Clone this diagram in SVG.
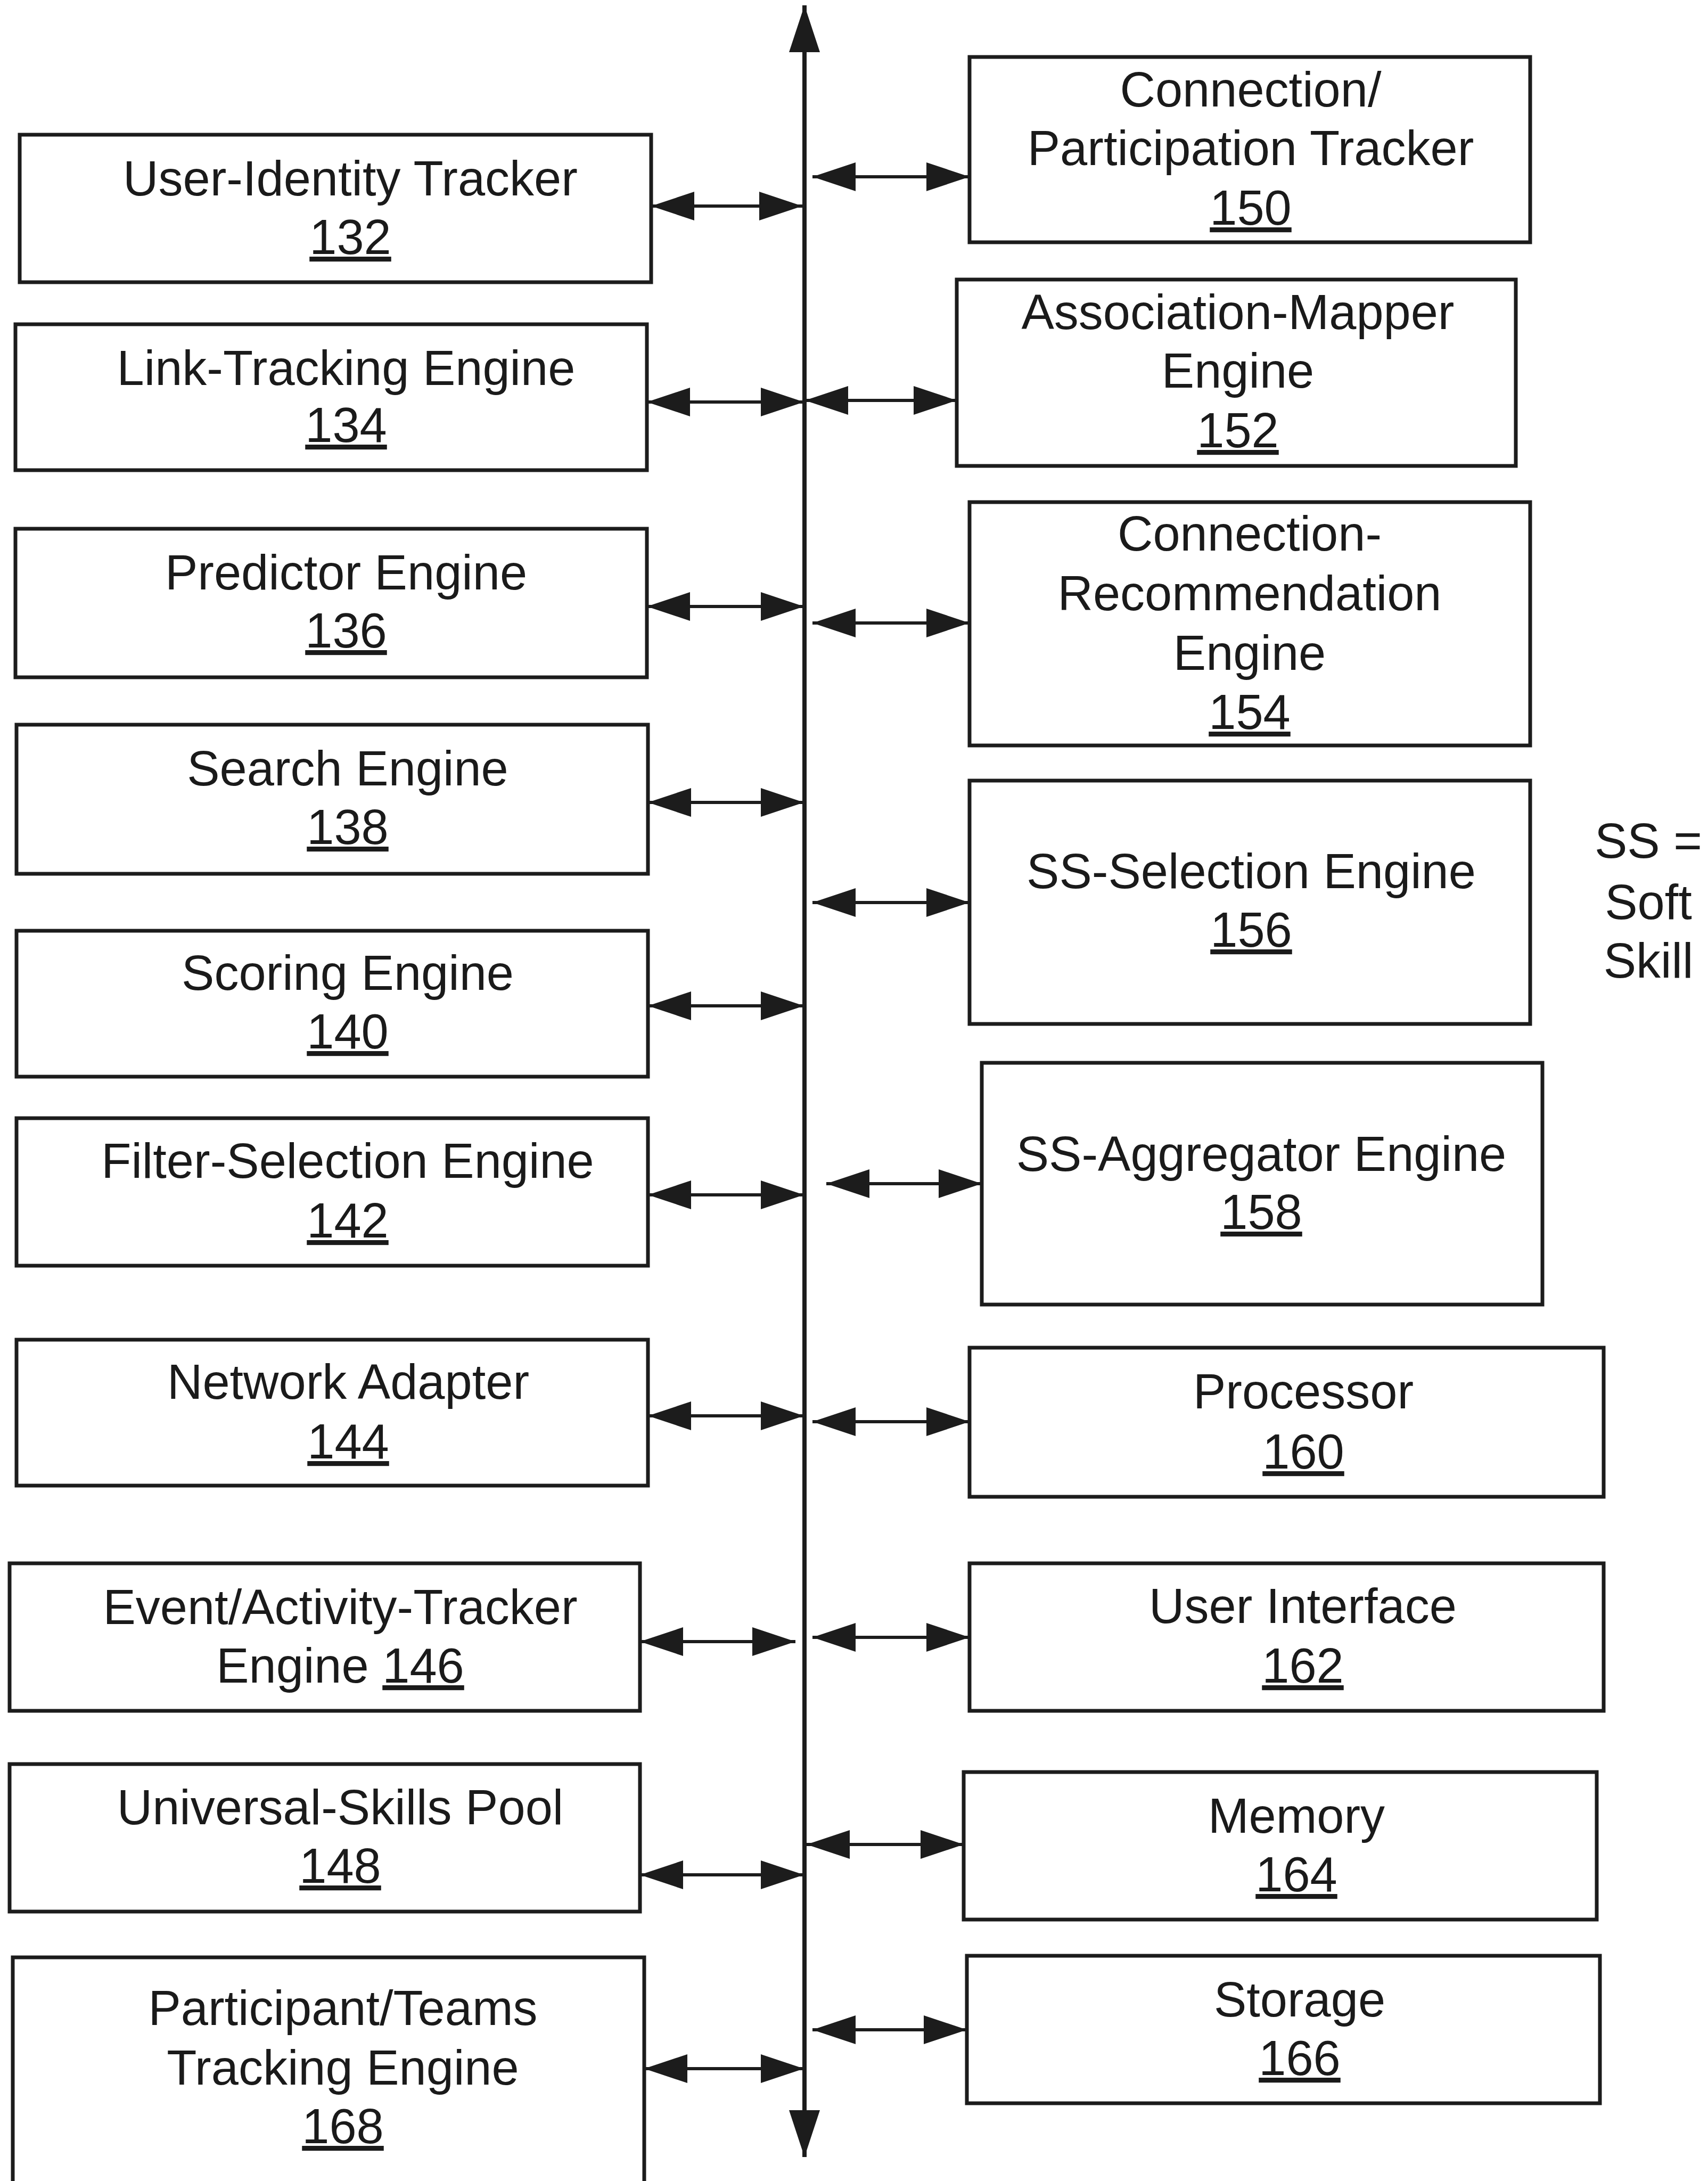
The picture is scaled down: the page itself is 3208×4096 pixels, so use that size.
<svg xmlns="http://www.w3.org/2000/svg" width="3208" height="4096" viewBox="0 0 3208 4096">
  <style>
    .box { fill: #ffffff; stroke: #1c1c1c; stroke-width: 7; }
    .lbl { font-family: "Liberation Sans", Arial, sans-serif; font-size: 92px; fill: #1a1a1a; text-anchor: middle; }
    .num { text-decoration: underline; }
    .conn { stroke: #1c1c1c; stroke-width: 6; fill: none; marker-start: url(#head); marker-end: url(#head); }
    .bus { stroke: #1c1c1c; stroke-width: 8; fill: none; marker-start: url(#bushead); marker-end: url(#bushead); }
  </style>
  <defs>
    <marker id="head" markerUnits="userSpaceOnUse" markerWidth="81" markerHeight="54" refX="81" refY="27" orient="auto-start-reverse" viewBox="0 0 81 54">
      <path d="M0,0 L81,27 L0,54 Z" fill="#1c1c1c"/>
    </marker>
    <marker id="bushead" markerUnits="userSpaceOnUse" markerWidth="88" markerHeight="58" refX="88" refY="29" orient="auto-start-reverse" viewBox="0 0 88 58">
      <path d="M0,0 L88,29 L0,58 Z" fill="#1c1c1c"/>
    </marker>
  </defs>

  <rect width="3208" height="4096" fill="#ffffff"/>

  <!-- connectors: system bus and the two-way links to each module -->
  <g id="connectors">
    <line class="bus" x1="1511" y1="10" x2="1511" y2="4051"/>
    <!-- left column -->
    <line class="conn" x1="1223" y1="387" x2="1507" y2="387"/>
    <line class="conn" x1="1215" y1="755" x2="1510" y2="755"/>
    <line class="conn" x1="1215" y1="1139" x2="1510" y2="1139"/>
    <line class="conn" x1="1217" y1="1507" x2="1510" y2="1507"/>
    <line class="conn" x1="1217" y1="1889" x2="1510" y2="1889"/>
    <line class="conn" x1="1217" y1="2244" x2="1510" y2="2244"/>
    <line class="conn" x1="1217" y1="2659" x2="1510" y2="2659"/>
    <line class="conn" x1="1202" y1="3083" x2="1494" y2="3083"/>
    <line class="conn" x1="1202" y1="3521" x2="1510" y2="3521"/>
    <line class="conn" x1="1210" y1="3885" x2="1510" y2="3885"/>
    <!-- right column -->
    <line class="conn" x1="1526" y1="332" x2="1821" y2="332"/>
    <line class="conn" x1="1512" y1="752" x2="1797" y2="752"/>
    <line class="conn" x1="1526" y1="1170" x2="1821" y2="1170"/>
    <line class="conn" x1="1526" y1="1695" x2="1821" y2="1695"/>
    <line class="conn" x1="1552" y1="2223" x2="1844" y2="2223"/>
    <line class="conn" x1="1526" y1="2670" x2="1821" y2="2670"/>
    <line class="conn" x1="1526" y1="3075" x2="1821" y2="3075"/>
    <line class="conn" x1="1515" y1="3464" x2="1810" y2="3464"/>
    <line class="conn" x1="1526" y1="3812" x2="1816" y2="3812"/>
  </g>

  <!-- left column modules -->
  <g id="n132">
    <rect class="box" x="37" y="253" width="1186" height="277"/>
    <text class="lbl" x="658" y="367">User-Identity Tracker</text>
    <text class="lbl" x="658" y="477"><tspan class="num">132</tspan></text>
  </g>
  <g id="n134">
    <rect class="box" x="29" y="609" width="1186" height="274"/>
    <text class="lbl" x="650" y="723">Link-Tracking Engine</text>
    <text class="lbl" x="650" y="830"><tspan class="num">134</tspan></text>
  </g>
  <g id="n136">
    <rect class="box" x="29" y="993" width="1186" height="279"/>
    <text class="lbl" x="650" y="1107">Predictor Engine</text>
    <text class="lbl" x="650" y="1216"><tspan class="num">136</tspan></text>
  </g>
  <g id="n138">
    <rect class="box" x="31" y="1361" width="1186" height="280"/>
    <text class="lbl" x="653" y="1475">Search Engine</text>
    <text class="lbl" x="653" y="1585"><tspan class="num">138</tspan></text>
  </g>
  <g id="n140">
    <rect class="box" x="31" y="1748" width="1186" height="274"/>
    <text class="lbl" x="653" y="1859">Scoring Engine</text>
    <text class="lbl" x="653" y="1969"><tspan class="num">140</tspan></text>
  </g>
  <g id="n142">
    <rect class="box" x="31" y="2100" width="1186" height="277"/>
    <text class="lbl" x="653" y="2212">Filter-Selection Engine</text>
    <text class="lbl" x="653" y="2324"><tspan class="num">142</tspan></text>
  </g>
  <g id="n144">
    <rect class="box" x="31" y="2516" width="1186" height="274"/>
    <text class="lbl" x="654" y="2627">Network Adapter</text>
    <text class="lbl" x="654" y="2739"><tspan class="num">144</tspan></text>
  </g>
  <g id="n146">
    <rect class="box" x="18" y="2936" width="1184" height="277"/>
    <text class="lbl" x="639" y="3050">Event/Activity-Tracker</text>
    <text class="lbl" x="639" y="3160">Engine <tspan class="num">146</tspan></text>
  </g>
  <g id="n148">
    <rect class="box" x="18" y="3313" width="1184" height="277"/>
    <text class="lbl" x="639" y="3426">Universal-Skills Pool</text>
    <text class="lbl" x="639" y="3536"><tspan class="num">148</tspan></text>
  </g>
  <g id="n168">
    <rect class="box" x="24" y="3676" width="1186" height="440"/>
    <text class="lbl" x="644" y="3803">Participant/Teams</text>
    <text class="lbl" x="644" y="3915">Tracking Engine</text>
    <text class="lbl" x="644" y="4025"><tspan class="num">168</tspan></text>
  </g>

  <!-- right column modules -->
  <g id="n150">
    <rect class="box" x="1821" y="107" width="1053" height="348"/>
    <text class="lbl" x="2349" y="200">Connection/</text>
    <text class="lbl" x="2349" y="310">Participation Tracker</text>
    <text class="lbl" x="2349" y="422"><tspan class="num">150</tspan></text>
  </g>
  <g id="n152">
    <rect class="box" x="1797" y="525" width="1050" height="350"/>
    <text class="lbl" x="2325" y="618">Association-Mapper</text>
    <text class="lbl" x="2325" y="728">Engine</text>
    <text class="lbl" x="2325" y="840"><tspan class="num">152</tspan></text>
  </g>
  <g id="n154">
    <rect class="box" x="1821" y="943" width="1053" height="457"/>
    <text class="lbl" x="2347" y="1034">Connection-</text>
    <text class="lbl" x="2347" y="1146">Recommendation</text>
    <text class="lbl" x="2347" y="1258">Engine</text>
    <text class="lbl" x="2347" y="1369"><tspan class="num">154</tspan></text>
  </g>
  <g id="n156">
    <rect class="box" x="1821" y="1466" width="1053" height="457"/>
    <text class="lbl" x="2350" y="1668">SS-Selection Engine</text>
    <text class="lbl" x="2350" y="1778"><tspan class="num">156</tspan></text>
  </g>
  <g id="n158">
    <rect class="box" x="1844" y="1996" width="1053" height="454"/>
    <text class="lbl" x="2369" y="2199">SS-Aggregator Engine</text>
    <text class="lbl" x="2369" y="2308"><tspan class="num">158</tspan></text>
  </g>
  <g id="n160">
    <rect class="box" x="1821" y="2531" width="1191" height="280"/>
    <text class="lbl" x="2448" y="2645">Processor</text>
    <text class="lbl" x="2448" y="2758"><tspan class="num">160</tspan></text>
  </g>
  <g id="n162">
    <rect class="box" x="1821" y="2936" width="1191" height="277"/>
    <text class="lbl" x="2447" y="3048">User Interface</text>
    <text class="lbl" x="2447" y="3160"><tspan class="num">162</tspan></text>
  </g>
  <g id="n164">
    <rect class="box" x="1810" y="3328" width="1189" height="277"/>
    <text class="lbl" x="2435" y="3442">Memory</text>
    <text class="lbl" x="2435" y="3552"><tspan class="num">164</tspan></text>
  </g>
  <g id="n166">
    <rect class="box" x="1816" y="3673" width="1189" height="277"/>
    <text class="lbl" x="2441" y="3787">Storage</text>
    <text class="lbl" x="2441" y="3897"><tspan class="num">166</tspan></text>
  </g>

  <!-- legend -->
  <g id="legend">
    <text class="lbl" x="3096" y="1611">SS =</text>
    <text class="lbl" x="3096" y="1726">Soft</text>
    <text class="lbl" x="3096" y="1836">Skill</text>
  </g>
</svg>
